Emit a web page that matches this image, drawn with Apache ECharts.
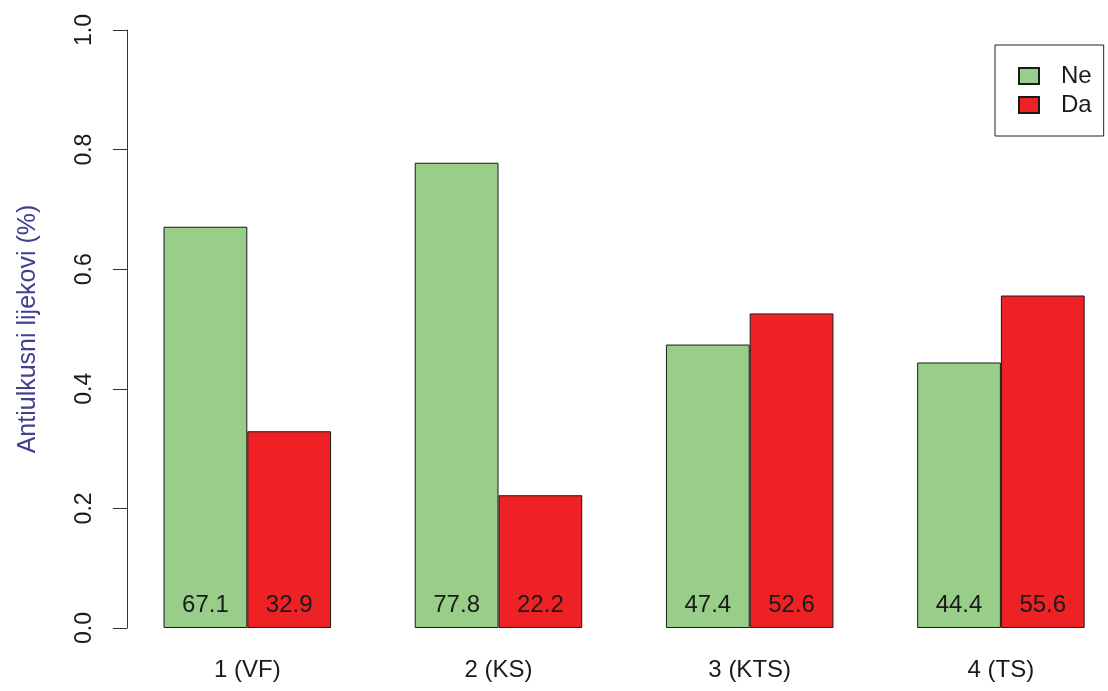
<!DOCTYPE html>
<html>
<head>
<meta charset="utf-8">
<script src="https://cdn.jsdelivr.net/npm/echarts@6/dist/echarts.min.js"></script>
<style>html,body{margin:0;padding:0;background:#fff}#c{width:1108px;height:691px}</style>
</head>
<body>
<div id="c"></div>
<script>
const categories = ['1 (VF)', '2 (KS)', '3 (KTS)', '4 (TS)'];
const seriesNames = ['Ne', 'Da'];
const neValues = [0.671, 0.778, 0.474, 0.444];
const daValues = [0.329, 0.222, 0.526, 0.556];
const yTicks = [0, 0.2, 0.4, 0.6, 0.8, 1.0];
const yTitle = 'Antiulkusni lijekovi (%)';

const FONT = '"Liberation Sans", Arial, sans-serif';
const chart = echarts.init(document.getElementById('c'), null, {renderer: 'canvas'});

function barSeries(name, data, color) {
  return {
    name: name,
    type: 'bar',
    data: data,
    barWidth: 83.75,
    barGap: '0%',
    itemStyle: {color: color, borderColor: '#1a1a1a', borderWidth: 1},
    label: {
      show: true,
      position: 'insideBottom',
      distance: 11,
      fontFamily: FONT,
      fontSize: 24,
      color: '#1a1a1a',
      formatter: p => (p.value * 100).toFixed(1)
    },
    emphasis: {disabled: true},
    animation: false
  };
}

chart.setOption({
  animation: false,
  backgroundColor: '#ffffff',
  grid: {left: 121.7, right: -18.5, top: 30, bottom: 63, containLabel: false, outerBoundsMode: 'none'},
  legend: {
    orient: 'vertical',
    left: 995,
    top: 45,
    padding: [19, 12, 19, 23],
    itemWidth: 20,
    itemHeight: 16,
    itemGap: 5,
    borderColor: '#222',
    borderWidth: 1,
    borderRadius: 0,
    icon: 'rect',
    selectedMode: false,
    textStyle: {fontFamily: FONT, fontSize: 24, color: '#1a1a1a', lineHeight: 24, padding: [0, 0, 0, 17]},
    data: seriesNames
  },
  xAxis: {
    type: 'category',
    data: categories,
    axisLine: {show: false},
    axisTick: {show: false},
    axisLabel: {fontFamily: FONT, fontSize: 24, color: '#1a1a1a', margin: 30}
  },
  yAxis: {
    type: 'value',
    min: 0,
    max: 1,
    interval: 0.2,
    offset: -5.3,
    name: yTitle,
    nameLocation: 'middle',
    nameGap: 86,
    nameRotate: 90,
    nameTextStyle: {fontFamily: FONT, fontSize: 25, color: '#404090'},
    axisLine: {show: true, lineStyle: {color: '#333', width: 1}},
    axisTick: {show: true, length: 14, lineStyle: {color: '#333', width: 1}},
    splitLine: {show: false},
    axisLabel: {
      fontFamily: FONT, fontSize: 23, color: '#1a1a1a', rotate: 90, margin: 31,
      formatter: v => yTicks.includes(Math.round(v * 10) / 10) ? v.toFixed(1) : ''
    }
  },
  series: [
    barSeries(seriesNames[0], neValues, '#98CE8A'),
    barSeries(seriesNames[1], daValues, '#EE2224')
  ]
});
</script>
</body>
</html>
